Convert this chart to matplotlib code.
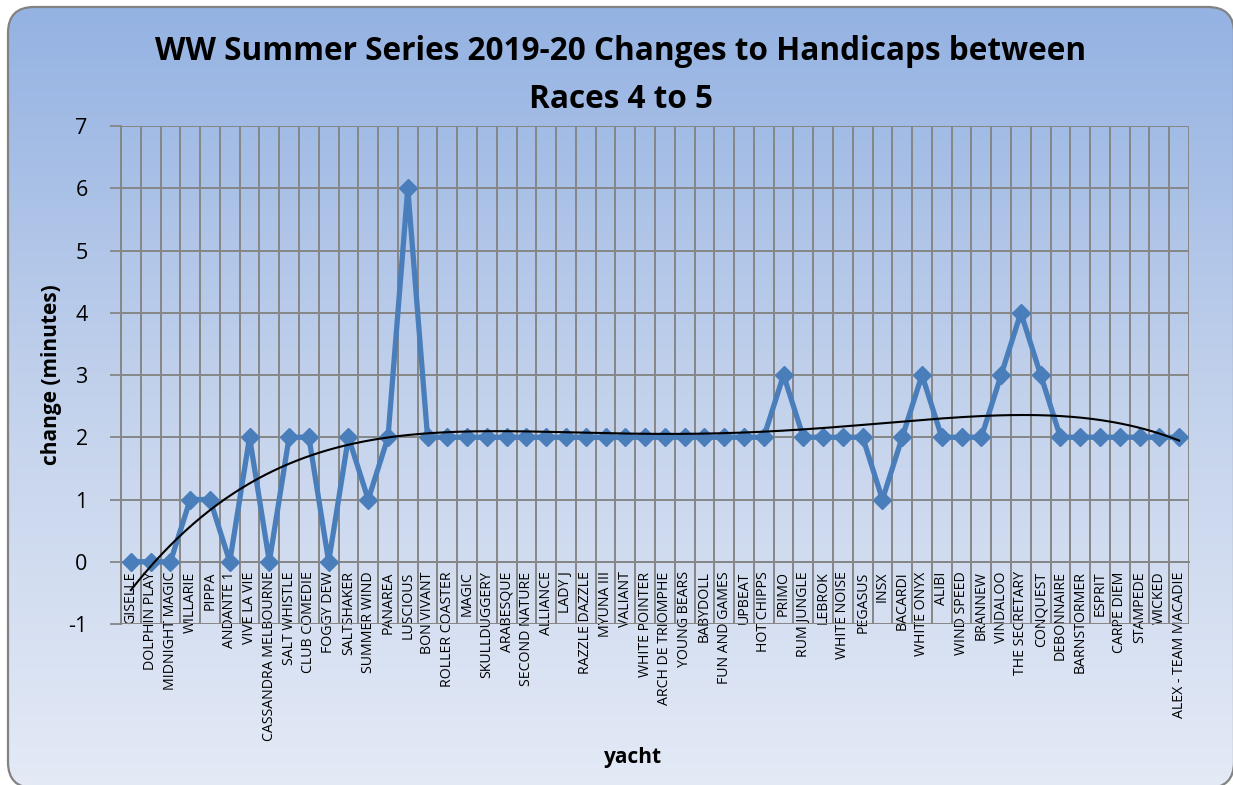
import numpy as np
import matplotlib
matplotlib.use("Agg")
import matplotlib.pyplot as plt
from matplotlib.patches import FancyBboxPatch
from matplotlib.colors import LinearSegmentedColormap

yachts = ["GISELLE","DOLPHIN PLAY","MIDNIGHT MAGIC","WILLARIE","PIPPA","ANDANTE 1","VIVE LA VIE",
          "CASSANDRA MELBOURNE","SALT WHISTLE","CLUB COMEDIE","FOGGY DEW","SALTSHAKER","SUMMER WIND",
          "PANAREA","LUSCIOUS","BON VIVANT","ROLLER COASTER","MAGIC","SKULLDUGGERY","ARABESQUE",
          "SECOND NATURE","ALLIANCE","LADY J","RAZZLE DAZZLE","MYUNA III","VALIANT","WHITE POINTER",
          "ARCH DE TRIOMPHE","YOUNG BEARS","BABYDOLL","FUN AND GAMES","UPBEAT","HOT CHIPPS","PRIMO",
          "RUM JUNGLE","LEBROK","WHITE NOISE","PEGASUS","INSX","BACARDI","WHITE ONYX","ALIBI",
          "WIND SPEED","BRANNEW","VINDALOO","THE SECRETARY","CONQUEST","DEBONNAIRE","BARNSTORMER",
          "ESPRIT","CARPE DIEM","STAMPEDE","WICKED","ALEX - TEAM MACADIE"]
changes = [0,0,0,1,1,0,2,0,2,2,0,2,1,2,6,2,2,2,2,2,2,2,2,2,2,2,2,2,2,2,2,2,2,3,2,2,2,2,1,2,3,2,2,2,3,4,3,2,2,2,2,2,2,2]
y_ticks = [-1, 0, 1, 2, 3, 4, 5, 6, 7]

plt.rcParams['font.family'] = ['Open Sans', 'DejaVu Sans']

W, H = 1233, 785
fig = plt.figure(figsize=(W/100, H/100), dpi=100)
fig.patch.set_facecolor("white")

# background with gradient inside a rounded rectangle (pixel coords, y up)
bg = fig.add_axes([0, 0, 1, 1])
bg.axis("off")
cmap = LinearSegmentedColormap.from_list("g", ["#94b2e2", "#c3d2ec", "#e4eaf6"])
grad = np.linspace(0, 1, 256).reshape(-1, 1)
im = bg.imshow(grad, extent=[8, 1234, H-788, H-7], cmap=cmap, aspect="auto",
               origin="upper", zorder=0)
bg.set_xlim(0, W)
bg.set_ylim(0, H)
box = FancyBboxPatch((8, H-788), 1226, 781, boxstyle="round,pad=0,rounding_size=26",
                     facecolor="none", edgecolor="#828282", lw=1.6, zorder=2)
bg.add_patch(box)
im.set_clip_path(box)

ax = fig.add_axes([121/W, 1-624/H, (1189-121)/W, (624-126)/H])
ax.patch.set_alpha(0)

x = np.arange(1, len(yachts)+1)
ax.plot(x, changes, color="#4a7ebb", lw=3.8, marker="D", ms=9.5, zorder=3)

# 4th-order polynomial trendline (as in Excel)
p = np.polyfit(x, changes, 4)
xs = np.linspace(1, len(yachts), 400)
ax.plot(xs, np.polyval(p, xs), color="black", lw=1.5, zorder=4)

for s in ["top", "right"]:
    ax.spines[s].set_visible(False)
ax.spines["left"].set_color("#868686")
ax.spines["left"].set_linewidth(1.4)
ax.spines["bottom"].set_position(("data", 0))
ax.spines["bottom"].set_color("#868686")
ax.spines["bottom"].set_linewidth(1.4)

ax.set_xlim(0.5, len(yachts)+0.5)
ax.set_ylim(-1, 7)
ax.set_yticks(y_ticks)
ax.set_yticklabels([str(v) for v in y_ticks], fontsize=15.5)
ax.set_xticks(x)
ax.set_xticklabels(yachts, rotation=90, fontsize=10.2, va="top", ha="center")
ax.set_xticks(np.arange(0.5, len(yachts)+1, 1), minor=True)
ax.tick_params(axis="x", which="both", length=0, pad=7)
ax.tick_params(axis="y", length=8, width=1.3, color="#868686", pad=16)
ax.grid(True, axis="y", which="major", color="#868686", lw=1.4)
ax.grid(True, axis="x", which="minor", color="#868686", lw=1.4)
ax.grid(False, axis="x", which="major")
ax.set_axisbelow(True)

fig.text(621/W, 1-52/H, "WW Summer Series 2019-20 Changes to Handicaps between",
         ha="center", va="center", fontsize=22.7, fontweight="bold")
fig.text(621/W, 1-100/H, "Races 4 to 5", ha="center", va="center", fontsize=22.7, fontweight="bold")
fig.text(52/W, 1-375/H, "change (minutes)", rotation=90, ha="center", va="center",
         fontsize=15, fontweight="bold")
fig.text(633/W, 1-757/H, "yacht", ha="center", va="center", fontsize=15, fontweight="bold")

fig.savefig("out.png", dpi=100)
